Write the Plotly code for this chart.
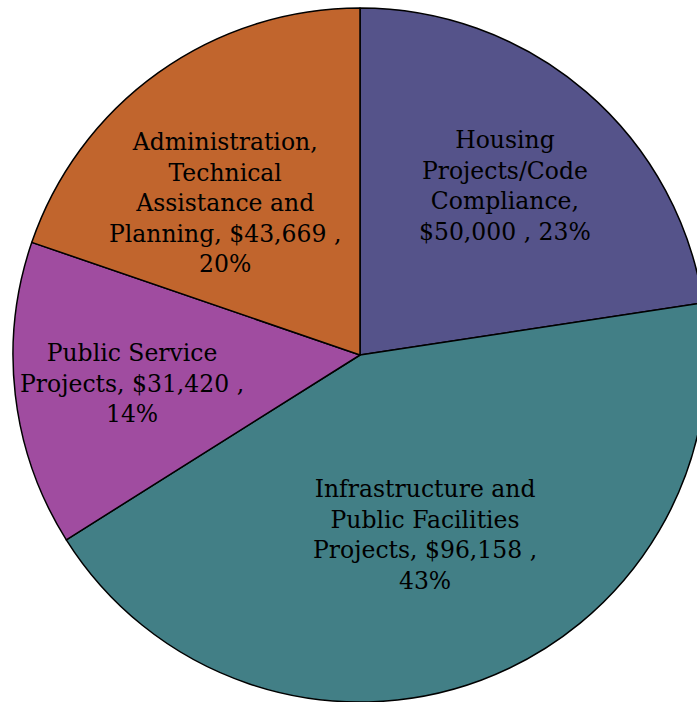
import plotly.graph_objects as go

# Data
labels = ["Housing<br>Projects/Code<br>Compliance,",
          "Infrastructure and<br>Public Facilities<br>Projects,",
          "Public Service<br>Projects,",
          "Administration,<br>Technical<br>Assistance and<br>Planning,"]
values = [50000, 96158, 31420, 43669]
colors = ["#55538A", "#427F86", "#A04CA0", "#C1652D"]
# how text breaks around the value
pre_value = ["<br>", " ", " ", " "]
post_value = [" , ", " ,<br>", " ,<br>", " ,<br>"]
label_px = [(505, 186), (425, 535), (132, 384), (225, 203)]

W, H = 720, 710
ML, MT, MR, MB = 13, 8, 13, 8
PW, PH = W - ML - MR, H - MT - MB

total = sum(values)
annotations = []
for lab, v, pre, post, (px, py) in zip(labels, values, pre_value, post_value, label_px):
    pct = round(100 * v / total)
    txt = f"{lab}{pre}${v:,}{post}{pct}%"
    annotations.append(dict(
        text=txt, x=(px - ML) / PW, y=1 - (py - MT) / PH,
        xref="paper", yref="paper", showarrow=False,
        xanchor="center", yanchor="middle", align="center",
        font=dict(family="DejaVu Serif", size=23.5, color="#000000"),
    ))

fig = go.Figure(go.Pie(
    labels=[l.replace("<br>", " ") for l in labels],
    values=values,
    sort=False, direction="clockwise", rotation=0,
    marker=dict(colors=colors, line=dict(color="#000000", width=1.5)),
    textinfo="none", hoverinfo="label+value+percent",
    domain=dict(x=[0, 1], y=[0, 1]),
))
fig.update_layout(
    width=W, height=H,
    margin=dict(l=ML, r=MR, t=MT, b=MB, pad=0),
    paper_bgcolor="#FFFFFF", plot_bgcolor="#FFFFFF",
    showlegend=False, annotations=annotations,
)
fig.write_html("out.html", config={"displayModeBar": False}, post_script=(
    "document.body.style.margin='0';"
    "document.body.style.overflow='hidden';"
    "document.documentElement.style.overflow='hidden';"
))
